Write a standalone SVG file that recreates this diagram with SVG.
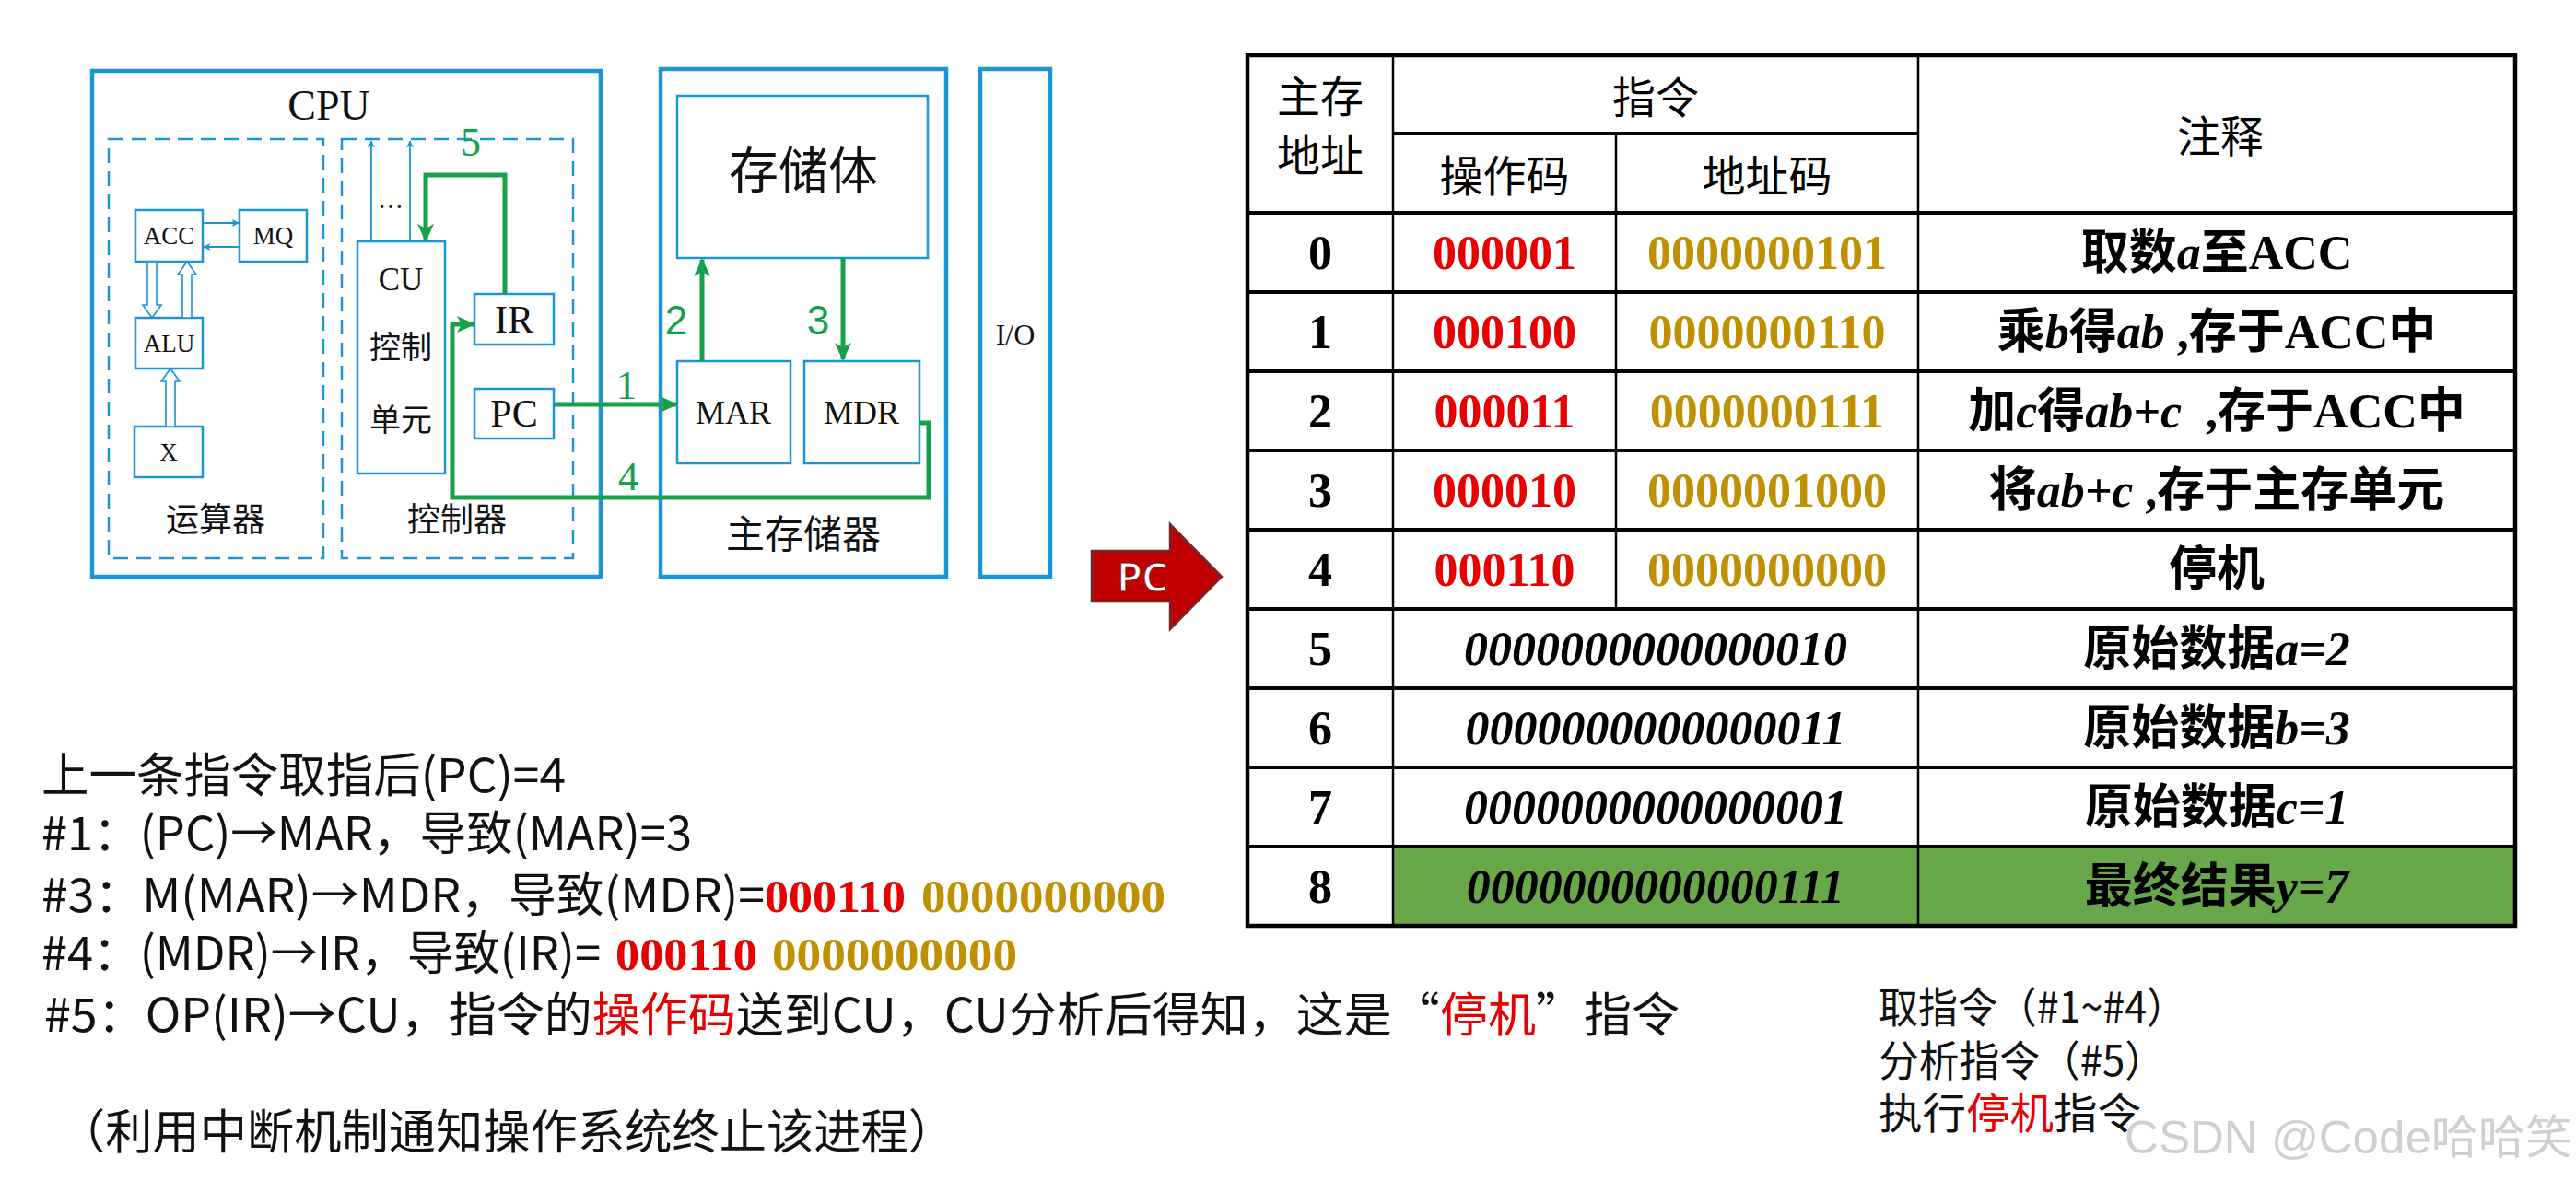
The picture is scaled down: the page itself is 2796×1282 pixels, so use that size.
<svg xmlns="http://www.w3.org/2000/svg" width="2796" height="1282" viewBox="0 0 2796 1282">
<style>
.ob{fill:none;stroke:#1b95d3;stroke-width:4.5}
.ib{fill:#fff;stroke:#1b95d3;stroke-width:2.5}
.db{fill:none;stroke:#1b95d3;stroke-width:2.5;stroke-dasharray:16 9}
.ser{font-family:"Liberation Serif","Noto Sans CJK SC",serif;fill:#111}
.cjk{font-family:"Noto Sans CJK SC",sans-serif;fill:#111}
.gl{fill:none;stroke:#17a04a;stroke-width:5}
.bl{fill:none;stroke:#1b95d3;stroke-width:1.8}
.hol{fill:#fff;stroke:#1b95d3;stroke-width:1.6}
.glab{fill:#17a04a}
.tl{stroke:#000;stroke-width:4}
.tv{stroke:#000;stroke-width:2.5}
.th{font-family:"Noto Sans CJK SC",sans-serif;font-size:47px;fill:#000;text-anchor:middle}
.tn{font-family:"Liberation Serif",serif;font-weight:bold;font-size:52px;fill:#000;text-anchor:middle}
.nt{font-family:"Liberation Serif","Noto Sans CJK SC",serif;font-weight:bold;font-size:52px;fill:#000;text-anchor:middle;white-space:pre}
.it{font-style:italic}
.bt{font-family:"Noto Sans CJK SC",sans-serif;font-size:51px;fill:#111}
.dg{font-family:"Liberation Serif",serif;font-weight:bold}
.rt{font-family:"Noto Sans CJK SC",sans-serif;font-size:46px;fill:#111}
.red{fill:#e60000}
.gold{fill:#bf9000}
</style>
<defs>
<marker id="ag" viewBox="0 0 20 20" refX="18" refY="10" markerWidth="20" markerHeight="20" orient="auto" markerUnits="userSpaceOnUse">
<path d="M0,1 L20,10 L0,19 L5,10 z" fill="#17a04a"/>
</marker>
<marker id="ab" viewBox="0 0 10 10" refX="9" refY="5" markerWidth="9" markerHeight="8" orient="auto" markerUnits="userSpaceOnUse">
<path d="M0,0 L10,5 L0,10 L2,5 z" fill="#1b95d3"/>
</marker>
</defs>
<rect width="2796" height="1282" fill="#fff"/>

<g id="cpu">
<rect class="ob" x="100" y="77" width="552" height="549"/>
<text class="ser" x="357" y="130" font-size="46" text-anchor="middle">CPU</text>
</g>
<g id="alu-group">
<rect class="db" x="118" y="151" width="233" height="455"/>
<text class="cjk" x="234" y="577" font-size="36" text-anchor="middle">运算器</text>
</g>
<g id="ctrl-group">
<rect class="db" x="371" y="151" width="251" height="455"/>
<text class="cjk" x="496" y="577" font-size="36" text-anchor="middle">控制器</text>
</g>
<g id="acc">
<rect class="ib" x="147" y="228" width="73" height="56"/>
<text class="ser" x="183.5" y="265" font-size="27" text-anchor="middle">ACC</text>
</g>
<g id="mq">
<rect class="ib" x="260" y="228" width="73" height="56"/>
<text class="ser" x="296.5" y="265" font-size="27" text-anchor="middle">MQ</text>
</g>
<g id="alu">
<rect class="ib" x="147" y="345" width="73" height="55"/>
<text class="ser" x="183.5" y="382" font-size="27" text-anchor="middle">ALU</text>
</g>
<g id="x">
<rect class="ib" x="146" y="463" width="74" height="55"/>
<text class="ser" x="183" y="500" font-size="27" text-anchor="middle">X</text>
</g>
<g id="cu">
<rect class="ib" x="388" y="262" width="95" height="252"/>
<text class="ser" x="435" y="315" font-size="35" text-anchor="middle">CU</text>
<text class="cjk" x="435" y="389" font-size="34" text-anchor="middle">控制</text>
<text class="cjk" x="435" y="468" font-size="34" text-anchor="middle">单元</text>
</g>
<g id="ir">
<rect class="ib" x="515" y="319" width="86" height="55"/>
<text class="ser" x="558" y="361" font-size="42" text-anchor="middle">IR</text>
</g>
<g id="pc">
<rect class="ib" x="515" y="422" width="86" height="54"/>
<text class="ser" x="558" y="463" font-size="42" text-anchor="middle">PC</text>
</g>
<g id="mem">
<rect class="ob" x="717" y="75" width="310" height="551"/>
<text class="cjk" x="872" y="595" font-size="42" text-anchor="middle">主存储器</text>
</g>
<g id="store">
<rect class="ib" x="735" y="104" width="272" height="176"/>
<text class="cjk" x="872" y="205" font-size="54" text-anchor="middle">存储体</text>
</g>
<g id="mar">
<rect class="ib" x="735" y="392" width="123" height="111"/>
<text class="ser" x="796" y="460" font-size="36" text-anchor="middle">MAR</text>
</g>
<g id="mdr">
<rect class="ib" x="873" y="392" width="125" height="111"/>
<text class="ser" x="935" y="460" font-size="36" text-anchor="middle">MDR</text>
</g>
<g id="io">
<rect class="ob" x="1064" y="75" width="76" height="551"/>
<text class="ser" x="1102" y="374" font-size="32" text-anchor="middle">I/O</text>
</g>

<g id="connectors">
<line class="bl" x1="220" y1="242" x2="259" y2="242" marker-end="url(#ab)"/>
<line class="bl" x1="260" y1="268" x2="221" y2="268" marker-end="url(#ab)"/>
<polygon class="hol" points="160,284 170,284 170,331 175,331 165,345 155,331 160,331"/>
<polygon class="hol" points="198,345 208,345 208,298 213,298 203,284 193,298 198,298"/>
<polygon class="hol" points="180,463 190,463 190,414 195,414 185,400 175,414 180,414"/>
<line class="bl" x1="403" y1="262" x2="403" y2="153" marker-end="url(#ab)"/>
<line class="bl" x1="445" y1="262" x2="445" y2="153" marker-end="url(#ab)"/>
<text class="ser" x="424" y="226" font-size="28" text-anchor="middle">…</text>
<path class="gl" d="M601,439 H734" marker-end="url(#ag)"/>
<path class="gl" d="M762,392 V282" marker-end="url(#ag)"/>
<path class="gl" d="M915,280 V390" marker-end="url(#ag)"/>
<path class="gl" d="M998,459 H1008 V540 H491 V352 H514" marker-end="url(#ag)"/>
<path class="gl" d="M548,319 V190 H462 V261" marker-end="url(#ag)"/>
<text class="glab" x="680" y="433" font-family="Liberation Serif,serif" font-size="44" text-anchor="middle">1</text>
<text class="glab" x="734" y="363" font-family="Liberation Sans,sans-serif" font-size="44" text-anchor="middle">2</text>
<text class="glab" x="888" y="363" font-family="Liberation Sans,sans-serif" font-size="44" text-anchor="middle">3</text>
<text class="glab" x="682" y="532" font-family="Liberation Serif,serif" font-size="44" text-anchor="middle">4</text>
<text class="glab" x="511" y="169" font-family="Liberation Serif,serif" font-size="44" text-anchor="middle">5</text>
</g>

<g id="pc-arrow">
<polygon points="1185,598 1270,598 1270,569 1326,626 1270,683 1270,653 1185,653" fill="#c00000" stroke="#6b2b2b" stroke-width="2.5"/>
<text x="1240" y="642" font-family="Open Sans,sans-serif" font-weight="600" font-size="44" fill="#fff" stroke="#7a1010" stroke-width="0.8" text-anchor="middle">PC</text>
</g>

<g id="table">
<rect x="1512" y="919" width="1218" height="86" fill="#68a84a"/>
<rect x="1354" y="60" width="1376" height="945" fill="none" stroke="#000" stroke-width="4.5"/>
<line class="tl" x1="1512" y1="145" x2="2082" y2="145"/>
<line class="tl" x1="1354" y1="231" x2="2730" y2="231"/>
<line class="tl" x1="1354" y1="317" x2="2730" y2="317"/>
<line class="tl" x1="1354" y1="403" x2="2730" y2="403"/>
<line class="tl" x1="1354" y1="489" x2="2730" y2="489"/>
<line class="tl" x1="1354" y1="575" x2="2730" y2="575"/>
<line class="tl" x1="1354" y1="661" x2="2730" y2="661"/>
<line class="tl" x1="1354" y1="747" x2="2730" y2="747"/>
<line class="tl" x1="1354" y1="833" x2="2730" y2="833"/>
<line class="tl" x1="1354" y1="919" x2="2730" y2="919"/>
<line class="tv" x1="1512" y1="60" x2="1512" y2="1005"/>
<line class="tv" x1="2082" y1="60" x2="2082" y2="1005"/>
<line class="tv" x1="1754" y1="145" x2="1754" y2="661"/>

<text class="th" x="1433" y="122">主存</text>
<text class="th" x="1433" y="186">地址</text>
<text class="th" x="1797" y="123">指令</text>
<text class="th" x="1633" y="208">操作码</text>
<text class="th" x="1918" y="208">地址码</text>
<text class="th" x="2410" y="165">注释</text>

<text class="tn" x="1433" y="292">0</text>
<text class="tn red" x="1633" y="292">000001</text>
<text class="tn gold" x="1918" y="292">0000000101</text>
<text class="nt" x="2406" y="292">取数<tspan class="it">a</tspan>至ACC</text>

<text class="tn" x="1433" y="378">1</text>
<text class="tn red" x="1633" y="378">000100</text>
<text class="tn gold" x="1918" y="378">0000000110</text>
<text class="nt" x="2406" y="378">乘<tspan class="it">b</tspan>得<tspan class="it">ab</tspan> ,存于ACC中</text>

<text class="tn" x="1433" y="464">2</text>
<text class="tn red" x="1633" y="464">000011</text>
<text class="tn gold" x="1918" y="464">0000000111</text>
<text class="nt" x="2406" y="464">加<tspan class="it">c</tspan>得<tspan class="it">ab+c</tspan>  ,存于ACC中</text>

<text class="tn" x="1433" y="550">3</text>
<text class="tn red" x="1633" y="550">000010</text>
<text class="tn gold" x="1918" y="550">0000001000</text>
<text class="nt" x="2406" y="550">将<tspan class="it">ab+c</tspan> ,存于主存单元</text>

<text class="tn" x="1433" y="636">4</text>
<text class="tn red" x="1633" y="636">000110</text>
<text class="tn gold" x="1918" y="636">0000000000</text>
<text class="nt" x="2406" y="636">停机</text>

<text class="tn" x="1433" y="722">5</text>
<text class="tn it" x="1797" y="722">0000000000000010</text>
<text class="nt" x="2406" y="722">原始数据<tspan class="it">a=2</tspan></text>

<text class="tn" x="1433" y="808">6</text>
<text class="tn it" x="1797" y="808">0000000000000011</text>
<text class="nt" x="2406" y="808">原始数据<tspan class="it">b=3</tspan></text>

<text class="tn" x="1433" y="894">7</text>
<text class="tn it" x="1797" y="894">0000000000000001</text>
<text class="nt" x="2406" y="894">原始数据<tspan class="it">c=1</tspan></text>

<text class="tn" x="1433" y="980">8</text>
<text class="tn it" x="1797" y="980">0000000000000111</text>
<text class="nt" x="2406" y="980">最终结果<tspan class="it">y=7</tspan></text>
</g>

<g id="steps">
<text class="bt" x="45" y="860" textLength="569" lengthAdjust="spacingAndGlyphs">上一条指令取指后(PC)=4</text>
<text class="bt" x="45" y="923" textLength="706" lengthAdjust="spacingAndGlyphs">#1：(PC)→MAR，导致(MAR)=3</text>
<text class="bt" x="45" y="990" textLength="785" lengthAdjust="spacingAndGlyphs">#3：M(MAR)→MDR，导致(MDR)=</text>
<text class="bt dg red" x="830" y="990" textLength="153" lengthAdjust="spacingAndGlyphs">000110</text>
<text class="bt dg gold" x="1000" y="990" textLength="265" lengthAdjust="spacingAndGlyphs">0000000000</text>
<text class="bt" x="45" y="1053" textLength="607" lengthAdjust="spacingAndGlyphs">#4：(MDR)→IR，导致(IR)=</text>
<text class="bt dg red" x="668" y="1053" textLength="154" lengthAdjust="spacingAndGlyphs">000110</text>
<text class="bt dg gold" x="838" y="1053" textLength="266" lengthAdjust="spacingAndGlyphs">0000000000</text>
<text class="bt" x="48" y="1120" textLength="1775" lengthAdjust="spacingAndGlyphs">#5：OP(IR)→CU，指令的<tspan class="red">操作码</tspan>送到CU，CU分析后得知，这是“<tspan class="red">停机</tspan>”指令</text>
<text class="bt" x="63" y="1247" textLength="974" lengthAdjust="spacingAndGlyphs">（利用中断机制通知操作系统终止该进程）</text>
</g>

<g id="phases">
<text class="rt" x="2039" y="1110" textLength="334" lengthAdjust="spacingAndGlyphs">取指令（#1~#4）</text>
<text class="rt" x="2039" y="1168" textLength="311" lengthAdjust="spacingAndGlyphs">分析指令（#5）</text>
<text class="rt" x="2039" y="1225" textLength="285" lengthAdjust="spacingAndGlyphs">执行<tspan class="red">停机</tspan>指令</text>
</g>

<text x="2306" y="1252" font-family="Liberation Sans,Noto Sans CJK SC,sans-serif" font-size="50" fill="#cfcfcf" textLength="486" lengthAdjust="spacingAndGlyphs">CSDN @Code哈哈笑</text>
</svg>
